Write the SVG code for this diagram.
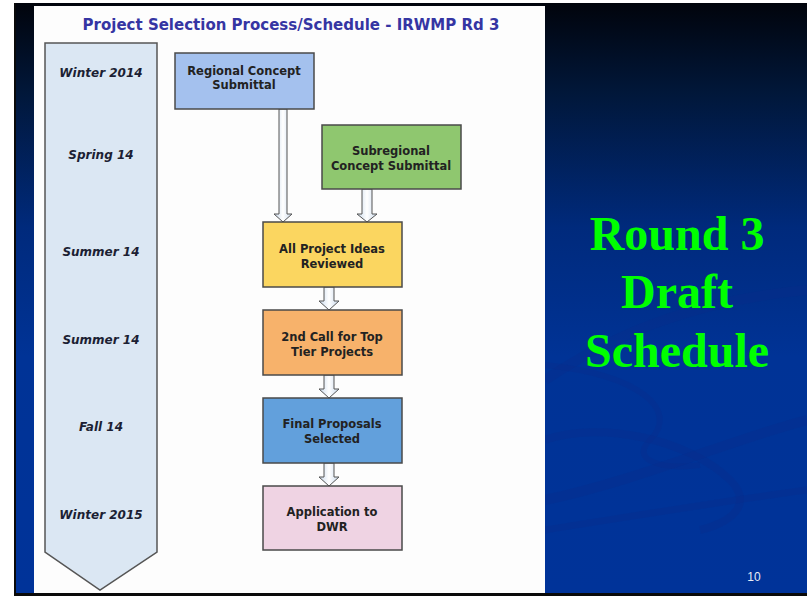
<svg xmlns="http://www.w3.org/2000/svg" width="807" height="597" viewBox="0 0 807 597">
  <defs>
    <linearGradient id="slideBg" x1="0" y1="3" x2="0" y2="593" gradientUnits="userSpaceOnUse">
      <stop offset="0" stop-color="#01040c"/>
      <stop offset="0.15" stop-color="#011739"/>
      <stop offset="0.38" stop-color="#002a7c"/>
      <stop offset="0.6" stop-color="#003396"/>
      <stop offset="1" stop-color="#003399"/>
    </linearGradient>
    <linearGradient id="shaft" x1="0" y1="0" x2="1" y2="0">
      <stop offset="0" stop-color="#c9d9ec"/>
      <stop offset="0.5" stop-color="#ffffff"/>
      <stop offset="1" stop-color="#c9d9ec"/>
    </linearGradient>
    <style>
      .box { stroke: #4a4a4a; stroke-width: 1.5; }
      .lbl { font-family: "DejaVu Sans", Verdana, sans-serif; font-weight: bold; font-size: 11.5px; fill: #222222; text-anchor: middle; }
      .time { font-family: "DejaVu Sans", Verdana, sans-serif; font-weight: bold; font-style: italic; font-size: 12px; fill: #1c1f33; text-anchor: middle; }
      .arrow { fill: url(#shaft); stroke: #555555; stroke-width: 1; }
      .big { font-family: "Liberation Serif", "Times New Roman", serif; font-weight: bold; font-size: 48px; fill: #00ff00; text-anchor: middle; }
      .swoosh { fill: none; stroke: #0a2a88; stroke-opacity: 0.28; }
    </style>
  </defs>

  <!-- page and slide frame -->
  <rect x="0" y="0" width="807" height="597" fill="#ffffff"/>
  <rect x="14" y="3" width="793" height="593" fill="#0a0a0a"/>
  <rect x="16" y="3" width="791" height="590" fill="url(#slideBg)"/>

  <!-- faint background swooshes -->
  <path class="swoosh" stroke-width="10" d="M545 380 C 620 330, 700 300, 807 290"/>
  <path class="swoosh" stroke-width="6" d="M545 365 C 640 375, 680 410, 650 440 C 630 460, 660 470, 700 465"/>
  <path class="swoosh" stroke-width="8" d="M545 440 C 600 420, 690 440, 730 480 C 750 500, 740 520, 700 530"/>
  <path class="swoosh" stroke-width="10" d="M545 500 C 640 480, 730 440, 807 420"/>
  <path class="swoosh" stroke-width="7" d="M545 530 C 640 515, 730 500, 807 490"/>

  <!-- white content panel -->
  <rect x="34" y="6" width="511" height="587" fill="#fdfdfd"/>

  <text x="291" y="30" font-family="'DejaVu Sans', Verdana, sans-serif" font-weight="bold" font-size="15" fill="#3535a3" text-anchor="middle">Project Selection Process/Schedule - IRWMP Rd 3</text>

  <!-- timeline -->
  <g id="timeline">
    <path d="M45 43 H157 V552 L100 590 L45 552 Z" fill="#dbe7f3" stroke="#555555" stroke-width="1.5"/>
    <text class="time" x="101" y="77">Winter 2014</text>
    <text class="time" x="101" y="159">Spring 14</text>
    <text class="time" x="101" y="256">Summer 14</text>
    <text class="time" x="101" y="344">Summer 14</text>
    <text class="time" x="101" y="431">Fall 14</text>
    <text class="time" x="101" y="519">Winter 2015</text>
  </g>

  <!-- connectors -->
  <g id="connectors">
    <path class="arrow" d="M279 109 H287 V214 H292 L283 222 L274 214 H279 Z"/>
    <path class="arrow" d="M362 189 H372 V214 H377 L367 222 L357 214 H362 Z"/>
    <path class="arrow" d="M324 287 H334 V301 H339 L329 310 L319 301 H324 Z"/>
    <path class="arrow" d="M324 375 H334 V389 H339 L329 398 L319 389 H324 Z"/>
    <path class="arrow" d="M324 463 H334 V477 H339 L329 486 L319 477 H324 Z"/>
  </g>

  <!-- process boxes -->
  <g id="regional">
    <rect class="box" x="175" y="53" width="139" height="56" fill="#a4c1ee"/>
    <text class="lbl" x="244" y="75">Regional Concept</text>
    <text class="lbl" x="244" y="89">Submittal</text>
  </g>
  <g id="subregional">
    <rect class="box" x="322" y="125" width="139" height="64" fill="#8fc76f"/>
    <text class="lbl" x="391" y="155">Subregional</text>
    <text class="lbl" x="391" y="170">Concept Submittal</text>
  </g>
  <g id="reviewed">
    <rect class="box" x="263" y="222" width="139" height="65" fill="#fbd660"/>
    <text class="lbl" x="332" y="253">All Project Ideas</text>
    <text class="lbl" x="332" y="268">Reviewed</text>
  </g>
  <g id="second-call">
    <rect class="box" x="263" y="310" width="139" height="65" fill="#f7b26b"/>
    <text class="lbl" x="332" y="341">2nd Call for Top</text>
    <text class="lbl" x="332" y="356">Tier Projects</text>
  </g>
  <g id="final">
    <rect class="box" x="263" y="398" width="139" height="65" fill="#62a0dc"/>
    <text class="lbl" x="332" y="428">Final Proposals</text>
    <text class="lbl" x="332" y="443">Selected</text>
  </g>
  <g id="application">
    <rect class="box" x="263" y="486" width="139" height="64" fill="#efd3e3"/>
    <text class="lbl" x="332" y="516">Application to</text>
    <text class="lbl" x="332" y="531">DWR</text>
  </g>

  <!-- slide heading -->
  <text class="big" x="677" y="250">Round 3</text>
  <text class="big" x="677" y="308">Draft</text>
  <text class="big" x="677" y="367">Schedule</text>

  <text x="754" y="581" font-family="'Liberation Sans', Arial, sans-serif" font-size="12" fill="#e8ecf5" text-anchor="middle">10</text>
</svg>
